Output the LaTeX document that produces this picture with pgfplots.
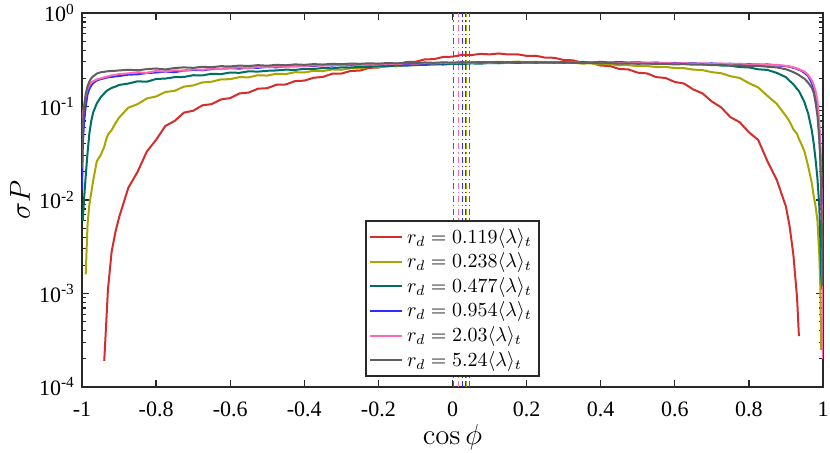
\documentclass[border=0pt]{standalone}
\usepackage[no-math]{fontspec}
\setmainfont{Liberation Serif}
\usepackage{pgfplots}
\usepackage{pgfplotstable}
\pgfplotsset{compat=1.18}
\definecolor{cR}{RGB}{213,45,45}
\definecolor{cY}{RGB}{170,165,0}
\definecolor{cT}{RGB}{0,110,100}
\definecolor{cB}{RGB}{45,45,255}
\definecolor{cP}{RGB}{255,105,180}
\definecolor{cG}{RGB}{95,95,95}
\definecolor{axcol}{RGB}{40,40,40}
\pgfplotsset{legend image code/.code={\draw[#1,line width=1pt] (0pt,0pt) -- (16pt,0pt);}}
\pgfplotstableread{
x R Y T B P G
-1.000 nan nan nan 0.013 0.05 0.022
-0.998 nan nan 0.006 0.035 0.08 0.06
-0.995 nan nan 0.0095 0.065 0.10 0.095
-0.990 nan 0.0016 0.018 0.10 0.13 0.135
-0.985 nan 0.0055 0.032 0.135 0.155 0.165
-0.980 nan 0.009 0.052 0.155 0.17 0.185
-0.975 nan 0.012 0.07 0.168 0.18 0.20
-0.970 nan 0.016 0.086 0.178 0.186 0.21
-0.960 nan 0.026 0.108 0.19 0.195 0.225
-0.950 nan 0.030 0.125 0.196 0.20 0.232
-0.940 0.00019 0.037 0.138 0.20 0.205 0.235
-0.935 0.00045 0.044 0.145 0.203 0.208 0.237
-0.930 0.0011 0.050 0.15 0.205 0.21 0.238
-0.920 0.0028 0.056 0.158 0.207 0.215 0.24
-0.910 0.0045 0.066 0.163 0.21 0.218 0.241
-0.900 0.0065 0.076 0.17 0.212 0.222 0.243
-0.875 0.0135 0.097 0.176 0.219 0.226 0.247
-0.850 0.020 0.106 0.186 0.221 0.232 0.244
-0.825 0.033 0.122 0.184 0.228 0.229 0.251
-0.800 0.044 0.128 0.197 0.231 0.240 0.255
-0.775 0.062 0.143 0.199 0.236 0.236 0.249
-0.750 0.070 0.147 0.206 0.233 0.244 0.258
-0.725 0.086 0.163 0.207 0.242 0.241 0.262
-0.700 0.090 0.168 0.216 0.246 0.25 0.259
-0.675 0.103 0.181 0.215 0.244 0.247 0.266
-0.650 0.106 0.184 0.224 0.251 0.255 0.263
-0.625 0.119 0.195 0.222 0.253 0.251 0.27
-0.600 0.123 0.196 0.231 0.257 0.258 0.268
-0.575 0.138 0.206 0.229 0.254 0.262 0.274
-0.550 0.141 0.205 0.238 0.261 0.257 0.271
-0.525 0.155 0.216 0.236 0.259 0.266 0.277
-0.500 0.157 0.214 0.241 0.265 0.263 0.273
-0.475 0.171 0.224 0.243 0.262 0.268 0.279
-0.450 0.172 0.222 0.248 0.27 0.266 0.276
-0.425 0.187 0.233 0.246 0.268 0.272 0.282
-0.400 0.189 0.231 0.253 0.273 0.27 0.279
-0.375 0.203 0.241 0.252 0.271 0.276 0.284
-0.350 0.207 0.239 0.258 0.278 0.273 0.281
-0.325 0.224 0.249 0.256 0.274 0.279 0.286
-0.300 0.225 0.247 0.262 0.279 0.277 0.283
-0.275 0.240 0.257 0.261 0.276 0.282 0.288
-0.250 0.242 0.255 0.266 0.283 0.279 0.286
-0.225 0.259 0.265 0.265 0.28 0.284 0.29
-0.200 0.261 0.262 0.27 0.285 0.281 0.287
-0.175 0.279 0.271 0.269 0.282 0.287 0.292
-0.150 0.281 0.269 0.275 0.288 0.284 0.289
-0.125 0.299 0.278 0.273 0.285 0.29 0.294
-0.100 0.301 0.276 0.279 0.29 0.287 0.291
-0.075 0.319 0.284 0.278 0.287 0.292 0.296
-0.050 0.321 0.281 0.283 0.292 0.289 0.293
-0.025 0.339 0.29 0.281 0.289 0.294 0.297
0.000 0.341 0.288 0.286 0.294 0.291 0.294
0.025 0.356 0.294 0.284 0.291 0.296 0.298
0.050 0.354 0.292 0.289 0.296 0.292 0.295
0.075 0.366 0.298 0.287 0.293 0.297 0.299
0.100 0.361 0.296 0.292 0.297 0.293 0.296
0.125 0.369 0.301 0.29 0.294 0.298 0.299
0.150 0.360 0.298 0.294 0.298 0.294 0.296
0.175 0.362 0.302 0.292 0.295 0.299 0.299
0.200 0.348 0.298 0.296 0.298 0.295 0.295
0.225 0.349 0.301 0.294 0.295 0.299 0.298
0.250 0.333 0.296 0.298 0.299 0.295 0.294
0.275 0.332 0.298 0.295 0.295 0.298 0.297
0.300 0.314 0.292 0.299 0.298 0.294 0.293
0.325 0.312 0.294 0.296 0.294 0.298 0.296
0.350 0.294 0.288 0.30 0.297 0.293 0.291
0.375 0.292 0.289 0.297 0.293 0.297 0.294
0.400 0.274 0.282 0.30 0.296 0.292 0.289
0.425 0.271 0.283 0.296 0.292 0.296 0.292
0.450 0.252 0.276 0.299 0.295 0.291 0.287
0.475 0.249 0.277 0.295 0.291 0.295 0.29
0.500 0.230 0.27 0.297 0.294 0.29 0.286
0.525 0.226 0.271 0.293 0.289 0.294 0.288
0.550 0.206 0.264 0.295 0.293 0.289 0.284
0.575 0.202 0.265 0.291 0.288 0.293 0.286
0.600 0.183 0.258 0.292 0.292 0.288 0.282
0.625 0.176 0.257 0.287 0.287 0.291 0.284
0.650 0.152 0.248 0.287 0.29 0.286 0.28
0.675 0.138 0.245 0.281 0.286 0.29 0.282
0.700 0.113 0.233 0.282 0.289 0.285 0.277
0.725 0.098 0.227 0.274 0.284 0.289 0.279
0.750 0.077 0.211 0.273 0.287 0.283 0.274
0.775 0.068 0.202 0.264 0.282 0.287 0.276
0.800 0.053 0.178 0.262 0.285 0.281 0.271
0.825 0.044 0.16 0.25 0.279 0.284 0.272
0.850 0.026 0.13 0.246 0.282 0.278 0.266
0.875 0.0165 0.107 0.229 0.275 0.279 0.262
0.900 0.0085 0.079 0.206 0.27 0.272 0.25
0.910 0.0052 0.069 0.188 0.266 0.268 0.242
0.920 0.0026 0.057 0.173 0.259 0.263 0.233
0.930 0.0009 0.051 0.154 0.253 0.255 0.223
0.935 0.00035 0.045 0.146 0.247 0.252 0.217
0.940 nan 0.041 0.134 0.243 0.245 0.21
0.950 nan 0.033 0.111 0.229 0.236 0.198
0.960 nan 0.023 0.084 0.211 0.217 0.18
0.970 nan 0.015 0.055 0.178 0.19 0.158
0.975 nan 0.011 0.04 0.155 0.17 0.14
0.980 nan 0.0085 0.027 0.125 0.145 0.11
0.985 nan 0.006 0.017 0.095 0.115 0.08
0.990 nan 0.0026 0.0085 0.05 0.07 0.045
0.993 nan 0.0011 0.0035 0.028 0.04 0.025
0.995 nan 0.00025 0.0016 0.015 0.023 0.012
0.998 nan nan 0.0011 0.005 0.004 0.003
1.000 nan nan nan 0.002 0.0002 0.0012
}\datatable
\begin{document}
\begin{tikzpicture}
\begin{axis}[
  at={(0,0)}, anchor=south west,
  scale only axis, width=370.5pt, height=187pt,
  xmin=-1, xmax=1, ymode=log, ymin=1e-4, ymax=1,
  xtick={-1,-0.8,-0.6,-0.4,-0.2,0,0.2,0.4,0.6,0.8,1},
  xticklabels={-1,-0.8,-0.6,-0.4,-0.2,0,0.2,0.4,0.6,0.8,1},
  ytick={1e-4,1e-3,1e-2,1e-1,1},
  yticklabels={10\textsuperscript{-4},10\textsuperscript{-3},10\textsuperscript{-2},10\textsuperscript{-1},10\textsuperscript{0}},
  tick label style={font=\fontsize{11}{13}\selectfont},
  xticklabel style={yshift=-3.8pt},
  axis line style={line width=0.75pt, color=axcol},
  every tick/.style={axcol, line width=0.6pt},
  major tick length=3.5pt, minor tick length=2pt,
  xlabel={$\cos\phi$}, ylabel={$\sigma P$},
  every axis x label/.style={at={(axis description cs:0.5,0)}, yshift=-25pt, anchor=center, font=\fontsize{14.5}{16}\selectfont},
  every axis y label/.style={at={(axis description cs:0,0.5)}, xshift=-31pt, rotate=90, anchor=center, font=\fontsize{14.5}{16}\selectfont},
  legend style={at={(axis description cs:0.5,0.027)}, anchor=south, font=\fontsize{10}{12}\selectfont, draw=axcol, line width=0.75pt, inner sep=1.5pt, row sep=-0.7pt},
  legend cell align=left,
]
\addplot[forget plot, color=cG, line width=0.5pt, dash pattern=on 3pt off 1.5pt on 0.6pt off 1.5pt] coordinates {(0.004,1e-4) (0.004,1)};
\addplot[forget plot, color=cP, line width=0.5pt, dash pattern=on 3pt off 1.5pt on 0.6pt off 1.5pt] coordinates {(0.015,1e-4) (0.015,1)};
\addplot[forget plot, color=cB, line width=0.5pt, dash pattern=on 3pt off 1.5pt on 0.6pt off 1.5pt] coordinates {(0.026,1e-4) (0.026,1)};
\addplot[forget plot, color=cT, line width=0.5pt, dash pattern=on 3pt off 1.5pt on 0.6pt off 1.5pt] coordinates {(0.034,1e-4) (0.034,1)};
\addplot[forget plot, color=cY, line width=0.5pt, dash pattern=on 3pt off 1.5pt on 0.6pt off 1.5pt] coordinates {(0.039,1e-4) (0.039,1)};
\addplot[forget plot, color=cR, line width=0.5pt, dash pattern=on 3pt off 1.5pt on 0.6pt off 1.5pt] coordinates {(0.045,1e-4) (0.045,1)};
\addplot[color=cR, line width=1pt] table[x=x,y=R] {\datatable};
\addlegendentry{$r_d = 0.119\langle\lambda\rangle_t$}
\addplot[color=cY, line width=1pt] table[x=x,y=Y] {\datatable};
\addlegendentry{$r_d = 0.238\langle\lambda\rangle_t$}
\addplot[color=cT, line width=1pt] table[x=x,y=T] {\datatable};
\addlegendentry{$r_d = 0.477\langle\lambda\rangle_t$}
\addplot[color=cB, line width=1pt] table[x=x,y=B] {\datatable};
\addlegendentry{$r_d = 0.954\langle\lambda\rangle_t$}
\addplot[color=cP, line width=1pt] table[x=x,y=P] {\datatable};
\addlegendentry{$r_d = 2.03\langle\lambda\rangle_t$}
\addplot[color=cG, line width=1pt] table[x=x,y=G] {\datatable};
\addlegendentry{$r_d = 5.24\langle\lambda\rangle_t$}
\end{axis}
\pgfresetboundingbox
\path (-41pt,-33pt) rectangle (374pt,193.5pt);
\end{tikzpicture}
\end{document}
